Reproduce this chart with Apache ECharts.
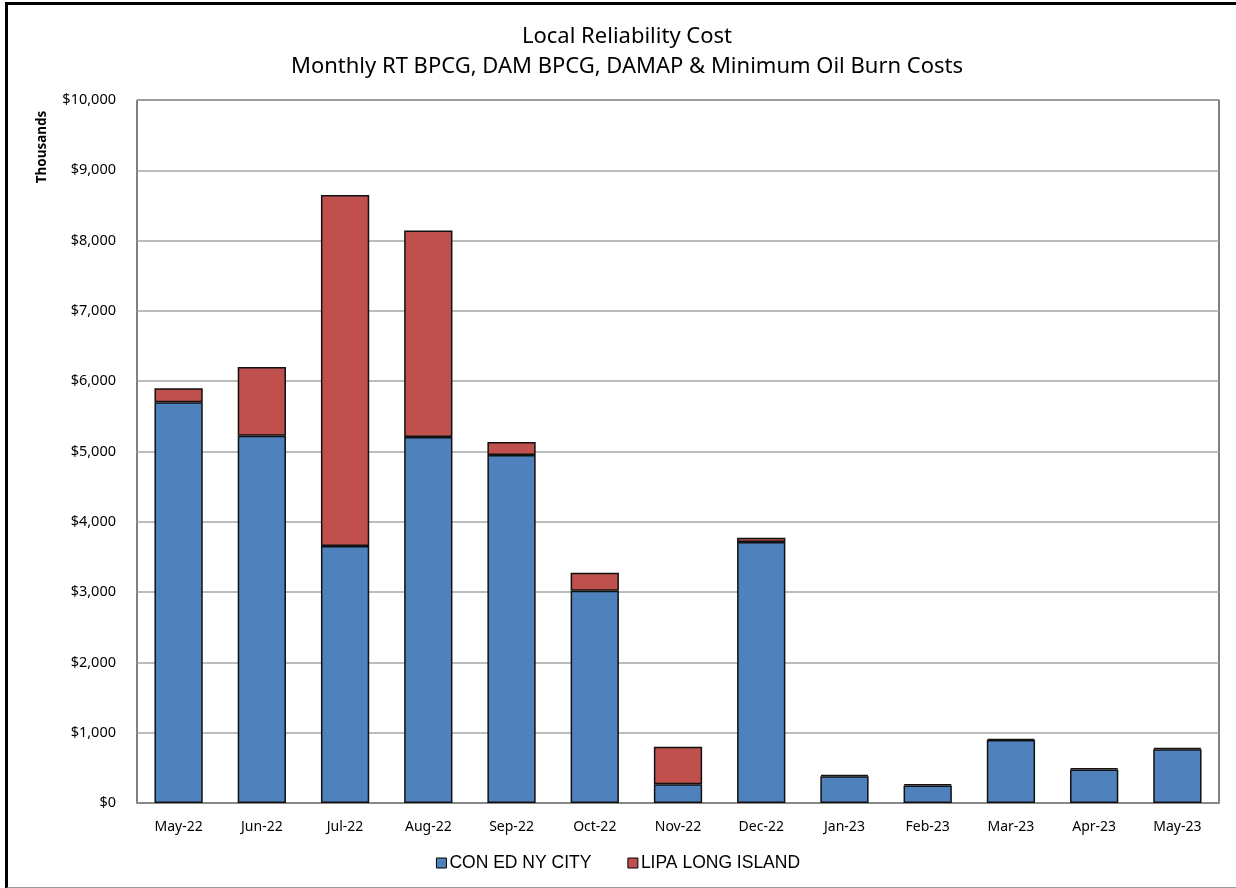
<!DOCTYPE html>
<html><head><meta charset="utf-8">
<script src="https://cdn.jsdelivr.net/npm/echarts@6/dist/echarts.min.js"></script>
<style>
html,body{margin:0;padding:0;background:#fff;}
#c{width:1236px;height:888px;position:absolute;left:0;top:0;}
#frame{position:absolute;left:5px;top:2px;width:1240px;height:882px;border-left:3px solid #000;border-top:3px solid #000;border-bottom:2px solid #999;pointer-events:none;}
</style></head>
<body>
<div id="c"></div>
<div id="frame"></div>
<script>
const categories = ['May-22','Jun-22','Jul-22','Aug-22','Sep-22','Oct-22','Nov-22','Dec-22','Jan-23','Feb-23','Mar-23','Apr-23','May-23'];
const conEd = [5700, 5225, 3656, 5206, 4950, 3020, 266, 3713, 380, 250, 895, 478, 765];
const lipa  = [200, 977, 4993, 2938, 185, 256, 535, 61, 20, 16, 20, 16, 18];
const seriesNames = ['CON ED NY CITY', 'LIPA LONG ISLAND'];
const titleLines = ['Local Reliability Cost', 'Monthly RT BPCG, DAM BPCG, DAMAP & Minimum Oil Burn Costs'];
const yAxisName = 'Thousands';

const chart = echarts.init(document.getElementById('c'));
const font = 'Noto Sans';
chart.setOption({
  animation: false,
  title: {
    text: titleLines.join('\n'),
    left: 622, top: 17, textAlign: 'center',
    textStyle: {fontFamily: font, fontSize: 22, fontWeight: 'normal', color: '#000', lineHeight: 30}
  },
  legend: {
    data: seriesNames, bottom: 11, left: 'center',
    icon: 'rect', itemWidth: 10, itemHeight: 10, itemGap: 36,
    textStyle: {fontFamily: 'Liberation Sans', fontSize: 17.5, color: '#000', padding: [0,0,0,-2]},
    itemStyle: {borderColor: '#000', borderWidth: 1}
  },
  grid: {left: 137, right: 17, top: 100, bottom: 85, show: true, borderColor: '#000', borderWidth: 1, containLabel: false},
  xAxis: {
    type: 'category', data: categories,
    axisLine: {show: true, lineStyle: {color: '#888', width: 2}},
    axisTick: {show: false},
    axisLabel: {fontFamily: font, fontSize: 14, color: '#000', margin: 17}
  },
  yAxis: {
    type: 'value', min: 0, max: 10000, interval: 1000,
    axisLine: {show: false}, axisTick: {show: false},
    splitLine: {lineStyle: {color: '#a6a6a6', width: 1.5}},
    axisLabel: {fontFamily: font, fontSize: 14.5, color: '#000', margin: 21,
      formatter: v => '$' + v.toLocaleString('en-US')}
  },
  graphic: [{
    type: 'text', x: 42, y: 147, rotation: Math.PI/2,
    style: {text: yAxisName, fontFamily: font, fontSize: 13.5, fontWeight: 'bold', fill: '#000', align: 'center', verticalAlign: 'middle'}
  }],
  series: [
    {name: seriesNames[0], type: 'bar', stack: 'a', data: conEd, barWidth: '58%',
     itemStyle: {color: '#4F81BD', borderColor: '#111', borderWidth: 1.5}},
    {name: seriesNames[1], type: 'bar', stack: 'a', data: lipa, barWidth: '58%',
     itemStyle: {color: '#C0504D', borderColor: '#111', borderWidth: 1.5}}
  ]
});
</script>
</body></html>
